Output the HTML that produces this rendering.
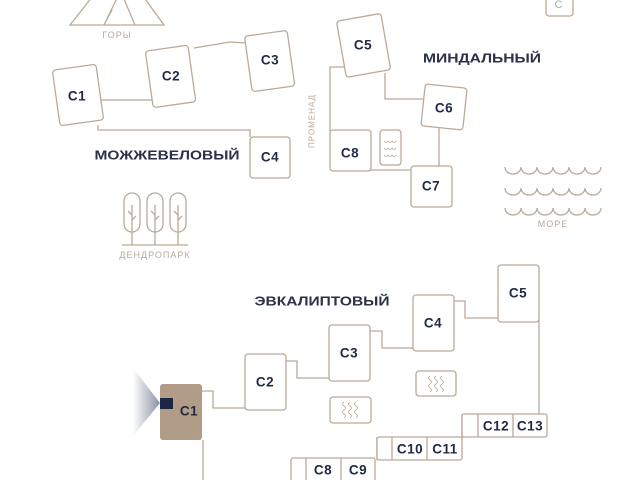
<!DOCTYPE html>
<html><head><meta charset="utf-8"><style>
html,body{margin:0;padding:0;background:#fff;}
svg{display:block;}
.b{fill:#fff;stroke:#bba998;stroke-width:1.3;}
.l{fill:none;stroke:#bba998;stroke-width:1.3;}
.t{font-family:"Liberation Sans",sans-serif;font-size:13.5px;font-weight:600;fill:#1f2a44;text-anchor:middle;dominant-baseline:central;letter-spacing:0.5px;}
.h{font-family:"Liberation Sans",sans-serif;font-size:13px;font-weight:bold;fill:#2a3148;text-anchor:middle;dominant-baseline:central;}
.g{font-family:"Liberation Sans",sans-serif;font-size:9px;fill:#b8a898;text-anchor:middle;dominant-baseline:central;letter-spacing:1px;}
</style></head><body>
<svg width="640" height="480" viewBox="0 0 640 480" xmlns="http://www.w3.org/2000/svg">
<defs>
<linearGradient id="gr" x1="0" x2="1" y1="0" y2="0"><stop offset="0" stop-color="#fff"/><stop offset="1" stop-color="#8a91a6"/></linearGradient>
<g id="wv"><path class="l" d="M0 0 a8 7 0 0 0 16 0 a8 7 0 0 0 16 0 a8 7 0 0 0 16 0 a8 7 0 0 0 16 0 a8 7 0 0 0 16 0 a8 7 0 0 0 16 0"/></g>
</defs>
<path class="l" d="M70 25 L96 -8 L121 -8 L135 25 Z M104 25 L120 -8 L140 -8 L164 25 Z M104 25 L112 10"/>
<text class="g" x="117" y="35">ГОРЫ</text>
<path class="l" d="M101 100 H153 M194 48 L230 42 L246 43 M98 125 V130 H250 V137"/>
<rect class="b" x="56" y="67" width="44" height="56" rx="3" transform="rotate(-8 78 95)"/><text class="t" x="77" y="96">С1</text>
<rect class="b" x="149" y="48" width="43" height="57" rx="3" transform="rotate(-8 170 76)"/><text class="t" x="171" y="76">С2</text>
<rect class="b" x="248" y="33" width="43" height="56" rx="3" transform="rotate(-8 270 60)"/><text class="t" x="270" y="60">С3</text>
<rect class="b" x="250" y="137" width="40" height="41" rx="3"/><text class="t" x="270" y="157">С4</text>
<text class="h" x="167" y="155" textLength="145" lengthAdjust="spacingAndGlyphs">МОЖЖЕВЕЛОВЫЙ</text>
<text class="g" x="312" y="121" transform="rotate(-90 312 121)" style="font-size:8px">ПРОМЕНАД</text>
<g class="l">
<rect x="124" y="193" width="16" height="39" rx="8"/><rect x="147" y="193" width="16" height="39" rx="8"/><rect x="170" y="193" width="16" height="39" rx="8"/>
<path d="M132 205 V245 M155 205 V245 M178 205 V245 M122 245 H188 M132 215 l-4 -4 M132 220 l4 -4 M155 215 l-4 -4 M155 220 l4 -4 M178 215 l-4 -4 M178 220 l4 -4"/>
</g>
<text class="g" x="155" y="255">ДЕНДРОПАРК</text>
<path class="l" d="M345 67 H330 V131 M385 73 V99 H423 M439 128 V167 M340 170 H412"/>
<rect class="b" x="341" y="17" width="45" height="57" rx="3" transform="rotate(-10 363 45)"/><text class="t" x="363" y="45">С5</text>
<rect class="b" x="423" y="86" width="42" height="42" rx="3" transform="rotate(6 444 107)"/><text class="t" x="444" y="108">С6</text>
<rect class="b" x="330" y="130" width="41" height="41" rx="3"/><text class="t" x="350" y="153">С8</text>
<rect class="b" x="380" y="130" width="21" height="35" rx="3"/>
<path class="l" style="stroke-width:0.8" d="M384 141 q2 3 4 0 q2 3 4 0 q2 3 4 0 M384 148 q2 3 4 0 q2 3 4 0 q2 3 4 0 M384 155 q2 3 4 0 q2 3 4 0 q2 3 4 0"/>
<rect class="b" x="411" y="166" width="41" height="41" rx="3"/><text class="t" x="431" y="186">С7</text>
<text class="h" x="482" y="58" textLength="118" lengthAdjust="spacingAndGlyphs">МИНДАЛЬНЫЙ</text>
<rect class="b" x="546" y="-4" width="27" height="20" rx="3"/><text class="g" x="559" y="5" style="font-size:11px">С</text>
<use href="#wv" x="505" y="167"/><use href="#wv" x="505" y="188"/><use href="#wv" x="505" y="208"/>
<text class="g" x="553" y="224">МОРЕ</text>
<text class="h" x="322" y="301" textLength="135" lengthAdjust="spacingAndGlyphs">ЭВКАЛИПТОВЫЙ</text>
<path class="l" d="M202 391 H213 V408 H245 M286 361 H297 V378 H329 M370 331 H382 V348 H413 M454 301 H465 V318 H498 M539 320 V415 M462 414 V440 M377 437 V460 M203 440 V480"/>
<rect class="b" x="498" y="265" width="41" height="57" rx="3"/><text class="t" x="518" y="293">С5</text>
<rect class="b" x="413" y="295" width="41" height="56" rx="3"/><text class="t" x="433" y="323">С4</text>
<rect class="b" x="329" y="325" width="41" height="56" rx="3"/><text class="t" x="349" y="353">С3</text>
<rect class="b" x="245" y="354" width="41" height="56" rx="3"/><text class="t" x="265" y="382">С2</text>
<polygon points="133,368 160,403 133,436" fill="url(#gr)"/>
<rect x="160" y="384" width="42" height="56" rx="3" fill="#b09c87"/>
<rect x="160" y="398" width="13" height="11" fill="#1c2744"/>
<text class="t" x="189" y="411">С1</text>
<rect class="b" x="330" y="397" width="41" height="26" rx="3"/>
<rect class="b" x="416" y="371" width="40" height="25" rx="3"/>
<path class="l" style="stroke-width:0.8" d="M344 402 q-3 2 0 4 q3 2 0 4 q-3 2 0 4 q3 2 0 4 M350 402 q-3 2 0 4 q3 2 0 4 q-3 2 0 4 q3 2 0 4 M356 402 q-3 2 0 4 q3 2 0 4 q-3 2 0 4 q3 2 0 4 M430 376 q-3 2 0 4 q3 2 0 4 q-3 2 0 4 q3 2 0 4 M436 376 q-3 2 0 4 q3 2 0 4 q-3 2 0 4 q3 2 0 4 M442 376 q-3 2 0 4 q3 2 0 4 q-3 2 0 4 q3 2 0 4"/>
<rect class="b" x="462" y="414" width="85" height="23" rx="2"/><path class="l" d="M478 414 V437 M513 414 V437"/>
<text class="t" x="496" y="426">С12</text><text class="t" x="530" y="426">С13</text>
<rect class="b" x="377" y="437" width="85" height="23" rx="2"/><path class="l" d="M392 437 V460 M427 437 V460"/>
<text class="t" x="410" y="449">С10</text><text class="t" x="445" y="449">С11</text>
<rect class="b" x="291" y="458" width="84" height="26" rx="2"/><path class="l" d="M306 458 V480 M341 458 V480"/>
<text class="t" x="323" y="470">С8</text><text class="t" x="358" y="470">С9</text>
</svg>
</body></html>
